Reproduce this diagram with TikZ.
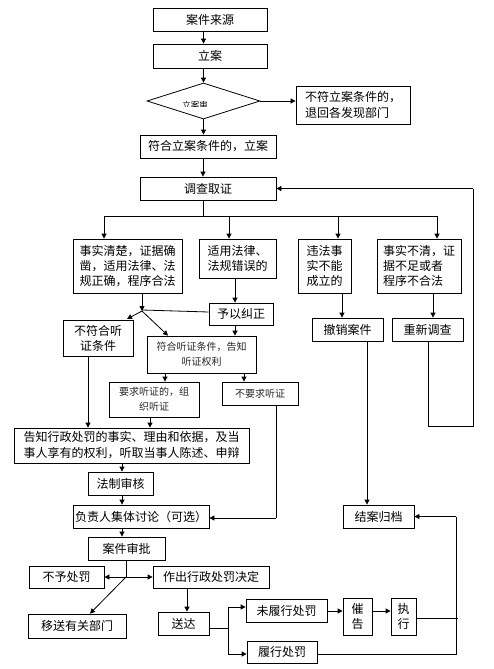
\documentclass[tikz,border=0pt]{standalone}
\usepackage{fontspec}
\setmainfont{Noto Sans CJK SC}
\usetikzlibrary{arrows.meta,shapes.geometric}
\tikzset{
  bx/.style={draw=black, line width=0.8pt, inner sep=0pt, align=center, font=\fontsize{12}{15}\selectfont},
  sbx/.style={bx, font=\fontsize{10}{15}\selectfont, text=black!85},
  ln/.style={draw=black, line width=0.8pt},
  arr/.style={ln, -{Triangle[length=5pt,width=5pt]}}
}
\begin{document}
\begin{tikzpicture}[x=1pt,y=-1pt]
\useasboundingbox (0,0) rectangle (493,669);
% top chain
\node[bx, minimum width=114pt, minimum height=23pt] (src) at (210,19.5) {案件来源};
\node[bx, minimum width=114pt, minimum height=24pt] (lian) at (210,56) {立案};
\node[diamond, draw=black, line width=0.8pt, inner sep=0pt, minimum width=113pt, minimum height=36pt] (dia) at (203.5,101) {};
\begin{scope}
  \clip (150,95) rectangle (250,106);
  \node[font=\fontsize{8.5}{8.5}\selectfont, inner sep=0pt] (dtext) at (195,105.5) {立案审};
\end{scope}
\node[bx, align=left, minimum width=114pt, minimum height=38pt, font=\fontsize{12}{16}\selectfont] (notfit) at (353,105) {不符立案条件的，\\退回各发现部门};
\node[bx, minimum width=136pt, minimum height=23pt] (fit) at (208,146.5) {符合立案条件的，立案};
\node[bx, minimum width=136pt, minimum height=23pt] (inv) at (208,188.5) {调查取证};
% four branches
\node[bx, minimum width=109pt, minimum height=54pt] (b1) at (127.5,266) {事实清楚，证据确\\凿，适用法律、法\\规正确，程序合法};
\node[bx, minimum width=77pt, minimum height=39pt] (b2) at (237.5,258.5) {适用法律、\\法规错误的};
\node[bx, minimum width=53pt, minimum height=54pt] (b3) at (324.5,266) {违法事\\实不能\\成立的};
\node[bx, align=left, minimum width=84pt, minimum height=54pt] (b4) at (419,266) {事实不清，证\\据不足或者\\程序不合法};
\node[bx, minimum width=64pt, minimum height=22pt] (corr) at (241,314) {予以纠正};
\node[bx, minimum width=70pt, minimum height=36pt] (nohear) at (98,338) {不符合听\\证条件};
\node[sbx, minimum width=109pt, minimum height=37pt] (hear) at (201.5,354.5) {符合听证条件，告知\\听证权利};
\node[sbx, minimum width=90pt, minimum height=35pt] (req) at (154,399.5) {要求听证的，组\\织听证};
\node[sbx, minimum width=76pt, minimum height=23pt] (noreq) at (260,393.5) {不要求听证};
\node[bx, minimum width=71pt, minimum height=23pt] (cancel) at (347.5,329.5) {撤销案件};
\node[bx, minimum width=71pt, minimum height=23pt] (reinv) at (427.5,329.5) {重新调查};
% lower part
\node[bx, minimum width=235pt, minimum height=35pt, font=\fontsize{12}{16}\selectfont] (notify) at (131.5,445.5) {告知行政处罚的事实、理由和依据，及当\\事人享有的权利，听取当事人陈述、申辩};
\node[bx, minimum width=65pt, minimum height=23pt] (legal) at (120.5,483.5) {法制审核};
\node[bx, minimum width=136pt, minimum height=23pt] (disc) at (141,516.5) {负责人集体讨论（可选）};
\node[bx, minimum width=77pt, minimum height=23pt] (approve) at (126.5,548.5) {案件审批};
\node[bx, minimum width=75pt, minimum height=22pt] (nopen) at (66.5,577) {不予处罚};
\node[bx, minimum width=116pt, minimum height=22pt] (decide) at (211,577) {作出行政处罚决定};
\node[bx, minimum width=98pt, minimum height=24pt] (transfer) at (77,626) {移送有关部门};
\node[bx, minimum width=51pt, minimum height=23pt] (deliver) at (183.5,623.5) {送达};
\node[bx, minimum width=81pt, minimum height=23pt] (unperf) at (286.5,610.5) {未履行处罚};
\node[bx, minimum width=29pt, minimum height=37pt] (urge) at (357.5,616.5) {催\\告};
\node[bx, minimum width=25pt, minimum height=37pt] (exec) at (403.5,616.5) {执\\行};
\node[bx, minimum width=70pt, minimum height=22pt] (perf) at (282,652) {履行处罚};
\node[bx, minimum width=71pt, minimum height=23pt] (close) at (378.5,516.5) {结案归档};
% coordinates
\coordinate (br) at (203,216);
\coordinate (brL) at (104,216);
\coordinate (brR) at (437,216);
\coordinate (J1) at (142,311);
\coordinate (J2) at (126,577);
\coordinate (fbA) at (428,426);
\coordinate (fbB) at (473,426);
\coordinate (fbC) at (473,188.5);
\coordinate (noreqA) at (276,518);
\coordinate (splitT) at (228,607);
\coordinate (splitB) at (228,654);
\coordinate (splitM) at (228,628);
\coordinate (execE) at (458,618);
\coordinate (rtB) at (456,654);
\coordinate (rtT) at (456,516.5);
% top connectors
\draw[arr] (src.south -| dia.center) -- (lian.north -| dia.center);
\draw[arr] (lian.south -| dia.center) -- (dia.north);
\draw[arr] (dia.east) -- (dia.east -| notfit.west);
\draw[arr] (dia.south) -- (fit.north -| dia.center);
\draw[arr] (fit.south -| br) -- (inv.north -| br);
\draw[ln] (inv.south -| br) -- (br);
\draw[ln] (brL) -- (brR);
\draw[arr] (brL) -- (b1.north -| brL);
\draw[arr] (229,216) -- (b2.north -| 229,0);
\draw[arr] (338,216) -- (b3.north -| 338,0);
\draw[arr] (brR) -- (b4.north -| brR);
% middle connectors
\draw[arr] (b1.south -| J1) -- (J1);
\draw[ln] (corr.west |- J1) ++(0,1) -- ([yshift=1pt]J1);
\draw[arr] (J1) -- (127,319);
\draw[arr] (J1) -- (hear.north -| 168,0);
\draw[arr] (b2.south -| 235,0) -- (corr.north -| 235,0);
\draw[arr] (corr.south -| 235,0) -- (hear.north -| 235,0);
\draw[arr] (hear.south -| 165,0) -- (req.north -| 165,0);
\draw[arr] (hear.south -| 244,0) -- (noreq.north -| 244,0);
\draw[arr] (nohear.south -| 88,0) -- (notify.north -| 88,0);
\draw[arr] (req.south -| 150,0) -- (notify.north -| 150,0);
\draw[ln] (noreq.south -| noreqA) -- (noreqA);
\draw[arr] (noreqA) -- (disc.east |- noreqA);
\draw[arr] (b3.south -| 342,0) -- (cancel.north -| 342,0);
\draw[arr] (b4.south -| 433,0) -- (reinv.north -| 433,0);
\draw[ln] (reinv.south -| fbA) -- (fbA) -- (fbB) -- (fbC);
\draw[arr] (fbC) -- (inv.east);
\draw[arr] (cancel.south -| 367,0) -- (close.north -| 367,0);
% lower connectors
\draw[arr] (notify.south -| 122,0) -- (legal.north -| 122,0);
\draw[arr] (legal.south -| 122,0) -- (disc.north -| 122,0);
\draw[arr] (disc.south -| 122,0) -- (approve.north -| 122,0);
\draw[ln] (approve.south -| J2) -- (J2);
\draw[arr] (J2) -- (nopen.east);
\draw[arr] (J2) -- (decide.west);
\draw[arr] (J2) -- (transfer.north -| 90,0);
\draw[arr] (decide.south -| 187,0) -- (deliver.north -| 187,0);
\draw[ln] (deliver.east |- splitM) -- (splitM);
\draw[ln] (splitT) -- (splitB);
\draw[arr] (splitT) -- (unperf.west |- splitT);
\draw[arr] (splitB) -- (perf.west |- splitB);
\draw[arr] (unperf.east |- 0,611) -- (urge.west |- 0,611);
\draw[arr] (urge.east |- 0,611) -- (exec.west |- 0,611);
\draw[ln] (exec.east |- execE) -- (execE);
\draw[ln] (perf.east |- rtB) -- (rtB) -- (rtT);
\draw[arr] (rtT) -- (close.east);
\end{tikzpicture}
\end{document}
